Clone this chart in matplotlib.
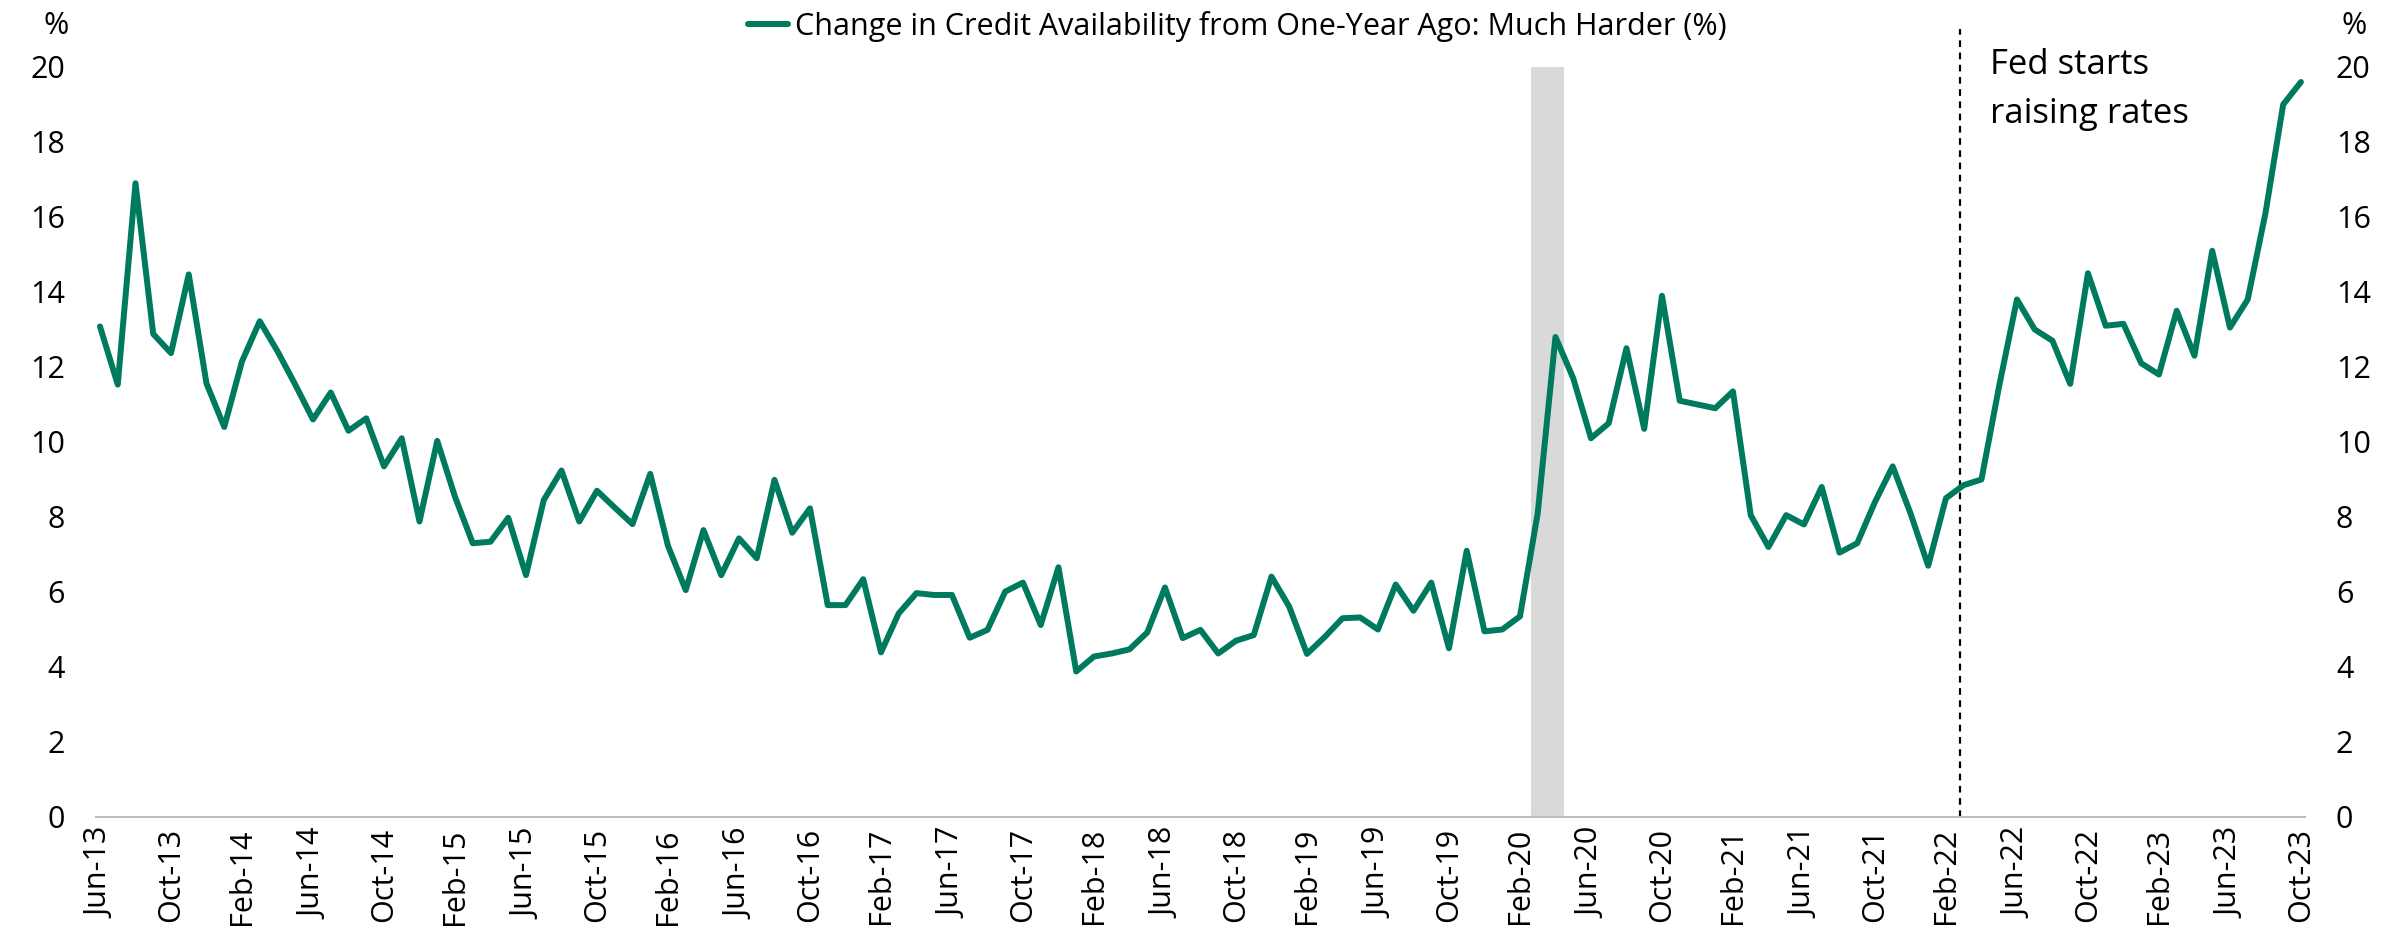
import numpy as np
import pandas as pd
import matplotlib
matplotlib.use('Agg')
import matplotlib.pyplot as plt

plt.rcParams['font.family'] = ['Open Sans', 'DejaVu Sans']

# monthly series, Jun-13 .. Oct-23
MONTHS = pd.date_range('2013-06-01', periods=125, freq='MS')
MUCH_HARDER = [
    13.08, 11.53, 16.90, 12.88, 12.37, 14.47, 11.56, 10.40, 12.15, 13.22, 12.42, 11.53, 10.60, 11.32, 10.30, 10.63, 9.35,
    10.10, 7.88, 10.03, 8.54, 7.30, 7.34, 7.98, 6.45, 8.45, 9.24, 7.88, 8.70, 8.25, 7.81, 9.15, 7.23, 6.05,
    7.65, 6.45, 7.43, 6.90, 8.99, 7.58, 8.23, 5.65, 5.65, 6.34, 4.39, 5.43, 5.97, 5.92, 5.92, 4.78, 4.99,
    6.01, 6.25, 5.12, 6.66, 3.88, 4.28, 4.36, 4.47, 4.92, 6.12, 4.77, 4.99, 4.36, 4.70, 4.85, 6.41, 5.61,
    4.35, 4.80, 5.30, 5.32, 5.00, 6.20, 5.50, 6.25, 4.50, 7.10, 4.95, 5.00, 5.35,
    8.10, 12.80, 11.70, 10.10, 10.50, 12.50, 10.35, 13.90, 11.10, 11.00, 10.90, 11.35,
    8.05, 7.20, 8.05, 7.80, 8.80, 7.05, 7.30, 8.40, 9.35, 8.10, 6.70, 8.50,
    8.85, 9.00, 11.50, 13.80, 13.00, 12.70, 11.55, 14.50, 13.10, 13.15, 12.10, 11.80,
    13.50, 12.30, 15.10, 13.05, 13.80, 16.10, 19.00, 19.60,
]
LABELS = MONTHS.strftime('%b-%y')
RECESSION = ('2020-03-01', '2020-04-01')
FED_HIKE = '2022-03-01'

GREEN = '#007A5E'

fig = plt.figure(figsize=(23.89, 9.42), dpi=100)
ax = fig.add_axes([0.040, 0.1327, 0.925, 0.7962])

x = np.arange(len(MONTHS))
rec0 = MONTHS.get_loc(pd.Timestamp(RECESSION[0])) - 0.4
rec1 = MONTHS.get_loc(pd.Timestamp(RECESSION[1])) + 0.5
ax.axvspan(rec0, rec1, color='#D9D9D9', lw=0, zorder=1)

fed = MONTHS.get_loc(pd.Timestamp(FED_HIKE)) - 0.2
ax.plot([fed, fed], [0, 21.0], ls=(0, (3, 2.5)), color='black', lw=1.6,
        clip_on=False, zorder=2)
ax.text(fed + 1.7, 19.4, 'Fed starts\nraising rates', fontsize=25,
        ha='left', va='center', linespacing=1.55)

ax.plot(x, MUCH_HARDER, color=GREEN, lw=4.3, solid_joinstyle='round',
        solid_capstyle='round', zorder=3,
        label='Change in Credit Availability from One-Year Ago: Much Harder (%)')

ax.set_xlim(-0.25, len(MONTHS) - 0.75)
ax.set_ylim(0, 20)
ax.set_yticks(np.arange(0, 21, 2))
ax.tick_params(axis='y', length=0, labelsize=22, pad=22, labelright=True)
ax.set_xticks(x[::4])
ax.set_xticklabels(LABELS[::4], rotation=90, fontsize=22)
ax.tick_params(axis='x', length=0, pad=8)

for s in ['top', 'left', 'right']:
    ax.spines[s].set_visible(False)
ax.spines['bottom'].set_color('#BFBFBF')
ax.spines['bottom'].set_linewidth(1.5)

fig.text(0.0235, 0.972, '%', fontsize=22, ha='center', va='center')
fig.text(0.9855, 0.972, '%', fontsize=22, ha='center', va='center')

fig.legend(loc='center', bbox_to_anchor=(0.518, 0.972), frameon=False,
           fontsize=22, handlelength=1.3, handletextpad=0.25)

fig.savefig('out.png', dpi=100, facecolor='white')
